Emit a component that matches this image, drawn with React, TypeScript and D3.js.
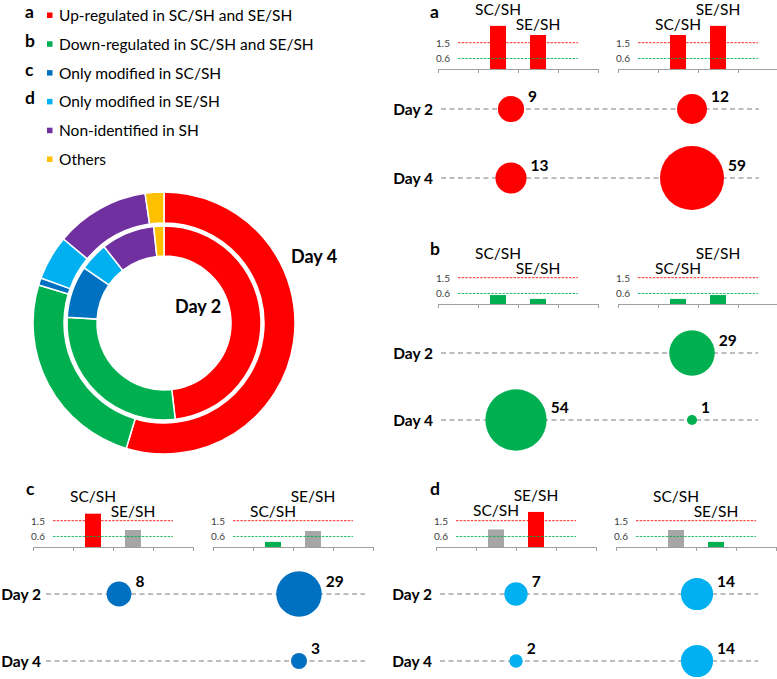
import React, { useEffect } from "react";
import * as d3 from "d3";

// ---------- data ----------
const legendLetters = ["a", "b", "c", "d", "", ""];
const legendLabels = [
  "Up-regulated in SC/SH and SE/SH",
  "Down-regulated in SC/SH and SE/SH",
  "Only modified in SC/SH",
  "Only modified in SE/SH",
  "Non-identified in SH",
  "Others",
];
const categoryColors = ["#ff0000", "#00b050", "#0070c0", "#00b0f0", "#7030a0", "#ffc000"];
const day2Shares = [48.2, 27.8, 8.7, 4.8, 8.9, 1.7];
const day4Shares = [54.6, 25.0, 0.9, 5.5, 11.6, 2.3];
const ringLabels = ["Day 2", "Day 4"];

const barGroups = ["SC/SH", "SE/SH"];
const thresholds = [1.5, 0.6];
const thresholdLabels = ["1.5", "0.6"];
const panelLetters = ["a", "b", "c", "d"];
const dayLabels = ["Day 2", "Day 4"];

// fold-change bars: [left pattern, right pattern] x [SC/SH, SE/SH]
const barsA = [[2.46, 1.94], [1.94, 2.46]];
const barsB = [[0.51, 0.29], [0.29, 0.51]];
const barsC = [[1.9, 0.97], [0.29, 0.91]];
const barsD = [[1.0, 2.0], [0.97, 0.29]];

// protein counts: rows Day 2, Day 4; columns left pattern, right pattern
const bubblesA = [[9, 12], [13, 59]];
const bubblesB = [[null, 29], [54, 1]];
const bubblesC = [[8, 29], [null, 3]];
const bubblesD = [[7, 14], [2, 14]];

const bubbleColors = ["#ff0000", "#00b050", "#0070c0", "#00b0f0"];

// ---------- layout ----------
const W = 777;
const H = 679;
const FONT = "Lato, 'Open Sans', sans-serif";
const UP = "#ff0000";
const DOWN = "#00b050";
const NEUTRAL = "#a6a6a6";

const panels = [
  { bars: barsA, bubbles: bubblesA, ox: 438, letterX: 430, letterY: 18, axisY: 69, rows: [109, 178], line: [441, 759], labelGap: 8, cols: [511, 692] },
  { bars: barsB, bubbles: bubblesB, ox: 438, letterX: 430, letterY: 255, axisY: 304, rows: [353, 420], line: [441, 758], labelGap: 8, cols: [516, 692] },
  { bars: barsC, bubbles: bubblesC, ox: 33, letterX: 26, letterY: 495, axisY: 547, rows: [594, 661], line: [46, 365], labelGap: 5, cols: [119, 299] },
  { bars: barsD, bubbles: bubblesD, ox: 436, letterX: 430, letterY: 495, axisY: 547, rows: [594, 661], line: [440, 758], labelGap: 8, cols: [516, 697] },
];

const rScale = d3.scaleSqrt().domain([0, 59]).range([1, 32]);

function MiniBars({ x0, axisY, values }: { x0: number; axisY: number; values: number[] }) {
  const band = d3.scaleBand<string>().domain(["0", "1", "2", "3"]).range([x0, x0 + 160]);
  const y = d3.scaleLinear().domain([0, 1.5]).range([axisY, axisY - 26.3]);
  const bw = band.bandwidth();
  const maxV = d3.max(values) as number;
  const highY = Math.min(axisY - 45, y(maxV) - 11);
  const color = (v: number) => (v >= thresholds[0] ? UP : v <= thresholds[1] ? DOWN : NEUTRAL);
  const lineX0 = (band("0") as number) + bw / 2;
  const lineX1 = (band("3") as number) + bw / 2;
  return (
    <g>
      {values.map((v, i) => {
        const bx = (band(String(i + 1)) as number) + bw / 2;
        return (
          <rect key={"b" + i} x={bx - bw * 0.2} y={y(v)} width={bw * 0.4} height={axisY - y(v)} fill={color(v)} />
        );
      })}
      {thresholds.map((t, i) => (
        <g key={"t" + i}>
          <line x1={lineX0} x2={lineX1} y1={y(t)} y2={y(t)} stroke={i === 0 ? UP : DOWN} strokeWidth={1} strokeDasharray="2.5,1.2" opacity={0.85} />
          <text x={lineX0 - 8} y={y(t) + 4} textAnchor="end" fontSize={10} fill="#404040" fontFamily={FONT}>
            {thresholdLabels[i]}
          </text>
        </g>
      ))}
      <line x1={x0} x2={x0 + 160} y1={axisY + 0.5} y2={axisY + 0.5} stroke="#a0a0a0" strokeWidth={1} />
      {d3.range(5).map((i) => (
        <line key={"k" + i} x1={x0 + i * bw + 0.5} x2={x0 + i * bw + 0.5} y1={axisY} y2={axisY + 4} stroke="#a0a0a0" strokeWidth={1} />
      ))}
      {values.map((v, i) => {
        const bx = (band(String(i + 1)) as number) + bw / 2;
        const isHigh = v === maxV;
        return (
          <text key={"l" + i} x={bx} y={isHigh ? highY : highY + 15} textAnchor="middle" fontSize={15.5} fontFamily={FONT} fill="#000">
            {barGroups[i]}
          </text>
        );
      })}
    </g>
  );
}

export default function App() {
  useEffect(() => {
    document.body.style.margin = "0";
  }, []);

  const pie = d3.pie<number>().sort(null).value((d) => d);
  const cx = 164;
  const cy = 323;
  const arcIn = d3.arc<d3.PieArcDatum<number>>().innerRadius(67).outerRadius(97);
  const arcOut = d3.arc<d3.PieArcDatum<number>>().innerRadius(100).outerRadius(131);

  return (
    <svg width={W} height={H} style={{ display: "block", background: "#fff" }} fontFamily={FONT}>
      {/* legend */}
      {legendLabels.map((lab, i) => {
        const by = 21 + i * 28.8;
        return (
          <g key={"lg" + i}>
            <text x={25} y={by - 3} fontSize={17.5} fontWeight="bold" fill="#000">
              {legendLetters[i]}
            </text>
            <rect x={47} y={by - 8.5} width={5.5} height={5.5} fill={categoryColors[i]} />
            <text x={59} y={by} fontSize={15.5} fill="#000">
              {lab}
            </text>
          </g>
        );
      })}

      {/* donut */}
      <g transform={`translate(${cx},${cy})`}>
        {pie(day2Shares).map((d, i) => (
          <path key={"in" + i} d={arcIn(d) as string} fill={categoryColors[i]} stroke="#fff" strokeWidth={1.5} />
        ))}
        {pie(day4Shares).map((d, i) => (
          <path key={"out" + i} d={arcOut(d) as string} fill={categoryColors[i]} stroke="#fff" strokeWidth={1.5} />
        ))}
      </g>
      <text x={175} y={313} fontSize={18} fontWeight="bold" fill="#000">
        {ringLabels[0]}
      </text>
      <text x={291} y={263} fontSize={18} fontWeight="bold" fill="#000">
        {ringLabels[1]}
      </text>

      {/* panels */}
      {panels.map((p, pi) => (
        <g key={"p" + pi}>
          <text x={p.letterX} y={p.letterY} fontSize={17.5} fontWeight="bold" fill="#000">
            {panelLetters[pi]}
          </text>
          <MiniBars x0={p.ox} axisY={p.axisY} values={p.bars[0]} />
          <MiniBars x0={p.ox + 180} axisY={p.axisY} values={p.bars[1]} />
          {p.bubbles.map((row, ri) => {
            const ry = p.rows[ri];
            return (
              <g key={"r" + ri}>
                <line x1={p.line[0]} x2={p.line[1]} y1={ry} y2={ry} stroke="#a6a6a6" strokeWidth={1.5} strokeDasharray="5,3.5" />
                <text x={p.line[0] - p.labelGap} y={ry + 6} textAnchor="end" fontSize={15.5} fontWeight="bold" fill="#000">
                  {dayLabels[ri]}
                </text>
                {row.map((v, ci) => {
                  if (v === null) return null;
                  const r = rScale(v);
                  const bx = p.cols[ci];
                  return (
                    <g key={"c" + ci}>
                      <circle cx={bx} cy={ry} r={r} fill={bubbleColors[pi]} />
                      <text x={bx + r + 4} y={ry - 7} fontSize={15.5} fontWeight="bold" fill="#000">
                        {v}
                      </text>
                    </g>
                  );
                })}
              </g>
            );
          })}
        </g>
      ))}
    </svg>
  );
}
